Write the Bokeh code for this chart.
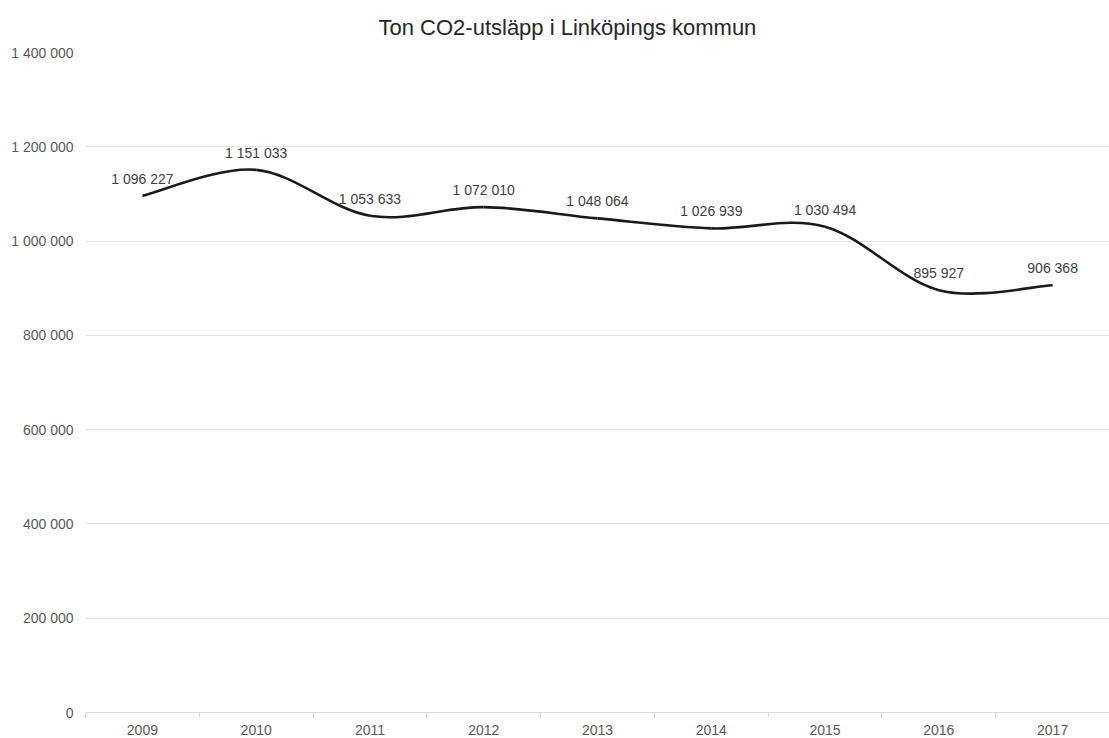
import numpy as np
from bokeh.plotting import figure
from bokeh.models import Range1d, FixedTicker, ColumnDataSource
from bokeh.core.properties import value
from bokeh.embed import file_html
from bokeh.resources import INLINE

# ---- data ----
years = ["2009", "2010", "2011", "2012", "2013", "2014", "2015", "2016", "2017"]
emissions = [1096227, 1151033, 1053633, 1072010, 1048064, 1026939, 1030494, 895927, 906368]
value_labels = ["1 096 227", "1 151 033", "1 053 633", "1 072 010", "1 048 064",
                "1 026 939", "1 030 494", "895 927", "906 368"]
y_ticks = [0, 200000, 400000, 600000, 800000, 1000000, 1200000, 1400000]
y_tick_labels = ["0", "200 000", "400 000", "600 000", "800 000", "1 000 000", "1 200 000", "1 400 000"]
title_text = "Ton CO2-utsläpp i Linköpings kommun"

FONT = "Liberation Sans"

n = len(years)
xs = np.arange(n, dtype=float)
ys = np.array(emissions, dtype=float)

p = figure(width=1109, height=738, output_backend="svg", toolbar_location=None,
           x_range=Range1d(-0.5, n - 0.5), y_range=Range1d(0, 1400000),
           frame_width=1024, frame_height=660,
           min_border_left=85, min_border_right=0, min_border_top=52, min_border_bottom=26)

p.outline_line_color = None
p.background_fill_color = "white"
p.border_fill_color = "white"

# title
p.title.text = title_text
p.title.align = "left"
p.title.offset = 293
p.title.standoff = 25
p.title.text_font = FONT
p.title.text_font_size = "22px"
p.title.text_font_style = "normal"
p.title.text_color = "#262626"

# x axis
xt = FixedTicker(ticks=list(range(n)), minor_ticks=[i - 0.5 for i in range(n + 1)])
p.xaxis.ticker = xt
p.xaxis.major_label_overrides = {i: years[i] for i in range(n)}
p.xaxis.major_tick_line_color = None
p.xaxis.major_tick_out = 0
p.xaxis.major_tick_in = 0
p.xaxis.minor_tick_line_color = "#d9d9d9"
p.xaxis.minor_tick_out = 5
p.xaxis.minor_tick_in = 0
p.xaxis.axis_line_color = "#d9d9d9"
p.xaxis.major_label_standoff = 7
p.xaxis.major_label_text_font = FONT
p.xaxis.major_label_text_font_size = "14px"
p.xaxis.major_label_text_color = "#595959"
p.xgrid.grid_line_color = None

# y axis
p.yaxis.ticker = FixedTicker(ticks=y_ticks)
p.yaxis.major_label_overrides = {t: l for t, l in zip(y_ticks, y_tick_labels)}
p.yaxis.axis_line_color = None
p.yaxis.major_tick_line_color = None
p.yaxis.minor_tick_line_color = None
p.yaxis.major_tick_out = 0
p.yaxis.major_label_standoff = 12
p.yaxis.major_label_text_font = FONT
p.yaxis.major_label_text_font_size = "14px"
p.yaxis.major_label_text_color = "#595959"
p.ygrid.grid_line_color = "#e4e4e4"
p.ygrid.grid_line_width = 1

# smoothed line (Catmull-Rom -> cubic Bezier through the data points)
xp = np.concatenate([xs[:1], xs[:-1]])
xn = np.concatenate([xs[1:], xs[-1:]])
yp = np.concatenate([ys[:1], ys[:-1]])
yn = np.concatenate([ys[1:], ys[-1:]])
seg = ColumnDataSource(dict(
    x0=xs[:-1], y0=ys[:-1], x1=xs[1:], y1=ys[1:],
    cx0=xs[:-1] + (xs[1:] - xp[:-1]) / 6.0,
    cy0=ys[:-1] + (ys[1:] - yp[:-1]) / 6.0,
    cx1=xs[1:] - (xn[1:] - xs[:-1]) / 6.0,
    cy1=ys[1:] - (yn[1:] - ys[:-1]) / 6.0,
))
p.bezier(x0="x0", y0="y0", x1="x1", y1="y1", cx0="cx0", cy0="cy0", cx1="cx1", cy1="cy1",
         source=seg, line_color="#1a1a1a", line_width=2.6)

# data labels
lab = ColumnDataSource(dict(x=xs, y=ys, t=value_labels))
p.text(x="x", y="y", text="t", source=lab, y_offset=-17,
       text_align="center", text_baseline="middle",
       text_font=value(FONT), text_font_size="14px", text_color="#404040")

open("out.html", "w").write(file_html(p, INLINE))
